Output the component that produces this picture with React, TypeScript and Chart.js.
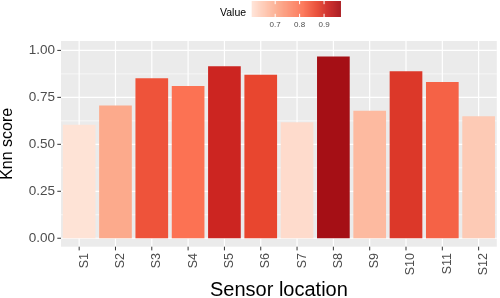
import { useEffect, useRef } from 'react';
import { Chart, registerables } from 'chart.js';

Chart.register(...registerables);

const categories = ['S1', 'S2', 'S3', 'S4', 'S5', 'S6', 'S7', 'S8', 'S9', 'S10', 'S11', 'S12'];
const knnScores = [0.604, 0.707, 0.852, 0.811, 0.916, 0.87, 0.618, 0.968, 0.679, 0.889, 0.832, 0.65];
const yTickValues = [0, 0.25, 0.5, 0.75, 1];
const legendTickValues = [0.7, 0.8, 0.9];
const colourStopPos = [0, 0.29, 0.57, 0.73, 0.86, 1];
const colourStopHex = ['#FEE3D6', '#FCA98A', '#FC7253', '#E8462F', '#CB2421', '#A50F15'];

const FONT = '"Liberation Sans", Arial, Helvetica, sans-serif';

function hexToRgb(h: string): number[] {
  const n = parseInt(h.slice(1), 16);
  return [(n >> 16) & 255, (n >> 8) & 255, n & 255];
}

const vMin = Math.min(...knnScores);
const vMax = Math.max(...knnScores);

function colourFor(v: number): string {
  let t = (v - vMin) / (vMax - vMin);
  t = Math.max(0, Math.min(1, t));
  for (let i = 0; i < colourStopPos.length - 1; i++) {
    const a = colourStopPos[i];
    const b = colourStopPos[i + 1];
    if (t >= a && t <= b) {
      const f = (t - a) / (b - a);
      const c1 = hexToRgb(colourStopHex[i]);
      const c2 = hexToRgb(colourStopHex[i + 1]);
      const c = c1.map((x, k) => Math.round(x + (c2[k] - x) * f));
      return `rgb(${c[0]},${c[1]},${c[2]})`;
    }
  }
  return colourStopHex[colourStopHex.length - 1];
}

export default function App() {
  const ref = useRef<HTMLCanvasElement>(null);

  useEffect(() => {
    if (!ref.current) return;

    const panelPlugin = {
      id: 'panel',
      beforeDatasetsDraw(chart: any) {
        const { ctx, chartArea: a, scales } = chart;
        const x = scales.x;
        const y = scales.y;
        ctx.save();
        ctx.fillStyle = '#EBEBEB';
        ctx.fillRect(a.left, a.top, a.right - a.left, a.bottom - a.top);
        ctx.strokeStyle = '#FFFFFF';
        ctx.lineWidth = 0.6;
        for (let i = 0; i < yTickValues.length - 1; i++) {
          const v = (yTickValues[i] + yTickValues[i + 1]) / 2;
          const py = y.getPixelForValue(v);
          ctx.beginPath();
          ctx.moveTo(a.left, py);
          ctx.lineTo(a.right, py);
          ctx.stroke();
        }
        ctx.lineWidth = 1.2;
        yTickValues.forEach((v) => {
          const py = y.getPixelForValue(v);
          ctx.beginPath();
          ctx.moveTo(a.left, py);
          ctx.lineTo(a.right, py);
          ctx.stroke();
        });
        categories.forEach((_, i) => {
          const px = x.getPixelForValue(i);
          ctx.beginPath();
          ctx.moveTo(px, a.top);
          ctx.lineTo(px, a.bottom);
          ctx.stroke();
        });
        ctx.restore();
      },
      afterDraw(chart: any) {
        const { ctx, chartArea: a, scales } = chart;
        const x = scales.x;
        const y = scales.y;
        ctx.save();
        // axis tick marks
        ctx.strokeStyle = '#333333';
        ctx.lineWidth = 1;
        yTickValues.forEach((v) => {
          const py = y.getPixelForValue(v);
          ctx.beginPath();
          ctx.moveTo(a.left - 3.7, py);
          ctx.lineTo(a.left, py);
          ctx.stroke();
        });
        categories.forEach((_, i) => {
          const px = x.getPixelForValue(i);
          ctx.beginPath();
          ctx.moveTo(px, a.bottom);
          ctx.lineTo(px, a.bottom + 3.7);
          ctx.stroke();
        });

        // colour-bar legend
        const bx0 = 251.7;
        const bx1 = 340.7;
        const by0 = 1;
        const by1 = 17;
        const bw = bx1 - bx0;
        for (let p = 0; p < bw; p++) {
          const v = vMin + ((p + 0.5) / bw) * (vMax - vMin);
          ctx.fillStyle = colourFor(v);
          ctx.fillRect(bx0 + p, by0, 1.2, by1 - by0);
        }
        ctx.strokeStyle = '#FFFFFF';
        ctx.lineWidth = 1;
        ctx.fillStyle = '#4D4D4D';
        ctx.font = `8px ${FONT}`;
        ctx.textAlign = 'center';
        ctx.textBaseline = 'middle';
        legendTickValues.forEach((v) => {
          const px = bx0 + ((v - vMin) / (vMax - vMin)) * bw;
          ctx.beginPath();
          ctx.moveTo(px, by0);
          ctx.lineTo(px, by0 + 3.2);
          ctx.moveTo(px, by1 - 3.2);
          ctx.lineTo(px, by1);
          ctx.stroke();
          ctx.fillText(v.toFixed(1), px, 24.5);
        });
        ctx.fillStyle = '#000000';
        ctx.font = `10.5px ${FONT}`;
        ctx.textAlign = 'left';
        ctx.fillText('Value', 220, 13.5);
        ctx.restore();
      },
    };

    const chart = new Chart(ref.current, {
      type: 'bar',
      data: {
        labels: categories,
        datasets: [
          {
            data: knnScores,
            backgroundColor: knnScores.map(colourFor),
            borderWidth: 0,
            barPercentage: 0.9,
            categoryPercentage: 1,
          },
        ],
      },
      options: {
        animation: false,
        responsive: true,
        maintainAspectRatio: false,
        layout: { padding: { top: 41, right: 1.5, left: 0, bottom: 0 } },
        plugins: {
          legend: { display: false },
          tooltip: { enabled: false },
        },
        scales: {
          x: {
            type: 'category',
            offset: true,
            grid: { display: false, drawTicks: false },
            border: { display: false },
            ticks: {
              autoSkip: false,
              minRotation: 90,
              maxRotation: 90,
              padding: 6.3,
              labelOffset: 5,
              color: '#4D4D4D',
              font: { family: FONT, size: 12.5 },
            },
            title: {
              display: true,
              text: 'Sensor location',
              color: '#000000',
              padding: { top: 0, bottom: 0 },
              font: { family: FONT, size: 20, lineHeight: 0.8 },
            },
            afterFit: (s: any) => {
              s.height = 51.3;
            },
          },
          y: {
            type: 'linear',
            min: -0.045,
            max: 1.05,
            grid: { display: false, drawTicks: false },
            border: { display: false },
            afterBuildTicks: (s: any) => {
              s.ticks = yTickValues.map((v) => ({ value: v }));
            },
            ticks: {
              padding: 6,
              color: '#4D4D4D',
              font: { family: FONT, size: 13.5 },
              callback: (v: any) => Number(v).toFixed(2),
            },
            title: {
              display: true,
              text: 'Knn score',
              color: '#000000',
              padding: { top: 0, bottom: 0 },
              font: { family: FONT, size: 16, lineHeight: 1 },
            },
            afterFit: (s: any) => {
              s.width = 61;
            },
          },
        },
      },
      plugins: [panelPlugin],
    });

    return () => chart.destroy();
  }, []);

  return (
    <div style={{ position: 'fixed', left: 0, top: 0, width: 500, height: 298, background: '#FFFFFF' }}>
      <canvas ref={ref} />
    </div>
  );
}
